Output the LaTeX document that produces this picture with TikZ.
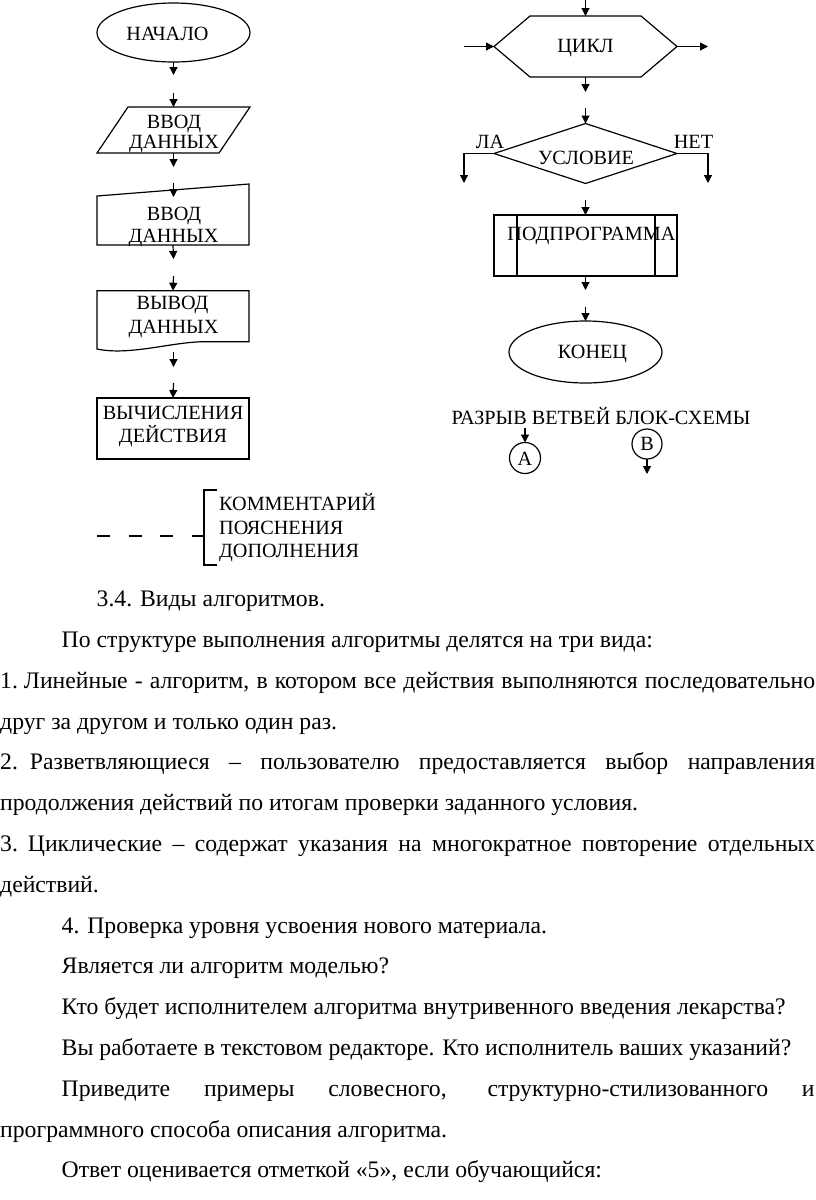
\documentclass[tikz,border=0pt]{standalone}
\usepackage{fontspec}
\setmainfont{Liberation Serif}
\usetikzlibrary{arrows.meta,shapes.geometric,calc}
\begin{document}
\begin{tikzpicture}[x=1pt,y=-1pt,
  ln/.style={line width=1.2pt},
  arr/.style={ln,-{Triangle[length=8pt,width=8pt]}},
  shp/.style={inner sep=0pt,outer sep=0pt},
  lbl/.style={font=\fontsize{20.2}{23}\selectfont,anchor=base,inner sep=0pt},
  lbw/.style={font=\fontsize{20.2}{23}\selectfont,anchor=base west,inner sep=0pt},
  body/.style={font=\fontsize{23.7}{28}\selectfont,anchor=base west,inner sep=0pt}]
\useasboundingbox (0,0) rectangle (816,1200);
\clip (0,0) rectangle (816,1200);
\fill[white] (0,0) rectangle (816,1200);

% ---------- left column ----------
\node[shp,ellipse,draw,ln,minimum width=153pt,minimum height=59pt] (start) at (173.5,32.5) {};
\node[lbl] (tstart) at (167.5,40.7) {НАЧАЛО};
\coordinate (a1) at (173.5,75);
\draw[arr] (start.south) -- (a1);

\node[shp,minimum width=153pt,minimum height=46pt] (in1) at (173.5,130) {};
\draw[ln] (in1.south west) -- ([xshift=31pt]in1.north west) -- (in1.north east) -- ([xshift=-31pt]in1.south east) -- cycle;
\coordinate (a2) at (173.5,93);
\draw[arr] (a2) -- (in1.north);
\node[lbl] (tin1a) at (174,128.3) {ВВОД};
\node[lbl] (tin1b) at (174,148) {ДАННЫХ};
\coordinate (a3) at (173.5,167);
\draw[arr] (in1.south) -- (a3);

\node[shp,minimum width=152pt,minimum height=61pt] (in2) at (173,214.5) {};
\draw[ln] (in2.south west) -- ([yshift=-12pt]in2.north west) -- (in2.north east) -- (in2.south east) -- cycle;
\coordinate (a4) at (173.5,183);
\coordinate (a4e) at (173.5,197);
\draw[arr] (a4) -- (a4e);
\node[lbl] (tin2a) at (174,220) {ВВОД};
\node[lbl] (tin2b) at (173.5,242.7) {ДАННЫХ};
\coordinate (a5) at (173.5,259);
\draw[arr] (in2.south) -- (a5);

\node[shp,minimum width=152pt,minimum height=51pt] (out) at (173,316.2) {};
\draw[ln] (out.north west) -- (out.north east) -- (out.south east) -- (205,341.7)
  .. controls (172,341.7) and (130,356) .. (97,349) -- cycle;
\coordinate (a6) at (173.5,276);
\draw[arr] (a6) -- (out.north);
\node[lbl] (tout1) at (172.5,309.3) {ВЫВОД};
\node[lbl] (tout2) at (173.5,333.3) {ДАННЫХ};
\coordinate (o1) at (173.5,352);
\coordinate (a7) at (173.5,367);
\draw[arr] (o1) -- (a7);

\node[shp,draw,ln,minimum width=152pt,minimum height=61pt] (calc) at (173,428.5) {};
\coordinate (a8) at (173.5,383);
\draw[arr] (a8) -- (calc.north);
\node[lbl] (tcalc1) at (173,419) {ВЫЧИСЛЕНИЯ};
\node[lbl] (tcalc2) at (173,442.7) {ДЕЙСТВИЯ};

% comment
\coordinate (cm1) at (97,536);
\coordinate (br) at (204,536);
\coordinate (brt) at (204,490);
\coordinate (brb) at (204,565);
\draw[ln,dash pattern=on 13pt off 18.5pt] (cm1) -- (br);
\draw[ln] ($(brt)+(13,0)$) -- (brt) -- (brb) -- ($(brb)+(13,0)$);
\node[lbw] (tc1) at (219,510.7) {КОММЕНТАРИЙ};
\node[lbw] (tc2) at (219,534) {ПОЯСНЕНИЯ};
\node[lbw] (tc3) at (219,557) {ДОПОЛНЕНИЯ};

% ---------- right column ----------
\node[shp,minimum width=183pt,minimum height=61pt] (cyc) at (585.5,46.5) {};
\draw[ln] (cyc.west) -- ([xshift=36pt]cyc.north west) -- ([xshift=-36pt]cyc.north east) -- (cyc.east)
  -- ([xshift=-36pt]cyc.south east) -- ([xshift=36pt]cyc.south west) -- cycle;
\node[lbl] (tcyc) at (585.5,52.7) {ЦИКЛ};
\coordinate (c0) at (585.5,-2);
\draw[arr] (c0) -- (cyc.north);
\coordinate (cl) at (464,46.5);
\coordinate (cr) at (708,46.5);
\draw[arr] (cl) -- (cyc.west);
\draw[arr] (cyc.east) -- (cr);
\coordinate (c1) at (585.5,92);
\draw[arr] (cyc.south) -- (c1);

\node[shp,minimum width=183pt,minimum height=60pt] (cond) at (585.5,153.5) {};
\draw[ln] (cond.west) -- (cond.north) -- (cond.east) -- (cond.south) -- cycle;
\coordinate (c2) at (585.5,108);
\draw[arr] (c2) -- (cond.north);
\node[lbl] (tcond) at (586,164) {УСЛОВИЕ};
\coordinate (yes) at (464,183);
\coordinate (no) at (708,183);
\draw[arr] (cond.west) -| (yes);
\draw[arr] (cond.east) -| (no);
\node[lbl] (tyes) at (490,148) {ЛА};
\node[lbl] (tno) at (693.5,148) {НЕТ};

\node[shp,draw,ln,minimum width=183pt,minimum height=61pt] (sub) at (585.5,245.5) {};
\draw[ln] ([xshift=23pt]sub.north west) -- ([xshift=23pt]sub.south west);
\draw[ln] ([xshift=-22pt]sub.north east) -- ([xshift=-22pt]sub.south east);
\coordinate (c3) at (585.5,200);
\draw[arr] (c3) -- (sub.north);
\node[lbl] (tsub) at (591.5,240.7) {ПОДПРОГРАММА};
\coordinate (c4) at (585.5,290);
\draw[arr] (sub.south) -- (c4);

\node[shp,ellipse,draw,ln,minimum width=153pt,minimum height=62pt] (fin) at (585.5,352) {};
\coordinate (c5) at (585.5,307);
\draw[arr] (c5) -- (fin.north);
\node[lbl] (tfin) at (592.5,358) {КОНЕЦ};

\node[lbl] (tbreak) at (601,424) {РАЗРЫВ ВЕТВЕЙ БЛОК-СХЕМЫ};
\node[shp,circle,draw,ln,minimum size=31pt] (ca) at (525,458) {};
\node[lbl] (tca) at (525,465) {А};
\coordinate (c6) at (525,428);
\draw[arr] (c6) -- (ca.north);
\node[shp,circle,draw,ln,minimum size=30pt] (cb) at (647,444) {};
\node[lbl] (tcb) at (647,450.7) {В};
\coordinate (c7) at (647,474);
\draw[arr] (cb.south) -- (c7);

% ---------- body text ----------
\node[body] (l0) at (96.5,606.7) {3.4. Виды алгоритмов.};
\node[body] (l1) at (61.5,647.5) {По структуре выполнения алгоритмы делятся на три вида:};
\node[body] (l2) at (0,688.3) {\makebox[815pt][s]{1.\hspace{6pt}Линейные - алгоритм, в котором все действия выполняются последовательно}};
\node[body] (l3) at (0,729.1) {друг за другом и только один раз.};
\node[body] (l4) at (0,769.9) {\makebox[815pt][s]{2.\hspace{12pt}Разветвляющиеся – пользователю предоставляется выбор направления}};
\node[body] (l5) at (0,810.7) {продолжения действий по итогам проверки заданного условия.};
\node[body] (l6) at (0,851.5) {\makebox[815pt][s]{3.\hspace{10pt}Циклические – содержат указания на многократное повторение отдельных}};
\node[body] (l7) at (0,892.3) {действий.};
\node[body] (l8) at (61.5,933.1) {4. Проверка уровня усвоения нового материала.};
\node[body] (l9) at (61.5,973.9) {Является ли алгоритм моделью?};
\node[body] (l10) at (61.5,1014.7) {Кто будет исполнителем алгоритма внутривенного введения лекарства?};
\node[body] (l11) at (61.5,1055.5) {Вы работаете в текстовом редакторе. Кто исполнитель ваших указаний?};
\node[body] (l12) at (61.5,1096.3) {\makebox[753pt][s]{Приведите примеры словесного, структурно-стилизованного и}};
\node[body] (l13) at (0,1137.1) {программного способа описания алгоритма.};
\node[body] (l14) at (61.5,1177.9) {Ответ оценивается отметкой «5», если обучающийся:};
\end{tikzpicture}
\end{document}
